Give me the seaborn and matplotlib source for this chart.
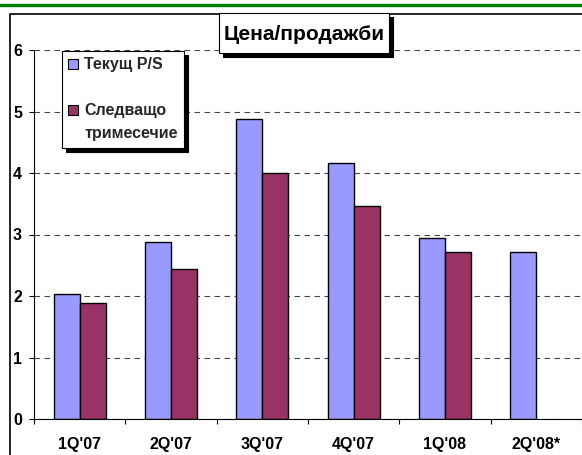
import numpy as np
import pandas as pd
import matplotlib
matplotlib.use("Agg")
import matplotlib.pyplot as plt
import matplotlib.patches as mpatches
from matplotlib.lines import Line2D
import seaborn as sns

quarters = ["1Q'07", "2Q'07", "3Q'07", "4Q'07", "1Q'08", "2Q'08*"]
current_ps = [2.03, 2.88, 4.88, 4.17, 2.95, 2.71]
next_q = [1.88, 2.44, 4.00, 3.46, 2.71, np.nan]
series_names = ["Текущ P/S", "Следващо\nтримесечие"]
colors = ["#9999FF", "#993366"]
title = "Цена/продажби"

df = pd.DataFrame({
    "quarter": quarters * 2,
    "value": current_ps + next_q,
    "series": [series_names[0]] * 6 + [series_names[1]] * 6,
})

sns.set_style("white")
plt.rcParams["font.family"] = ["Liberation Sans", "DejaVu Sans"]
plt.rcParams["font.weight"] = "bold"

W, H = 582, 455
fig = plt.figure(figsize=(W / 100, H / 100), dpi=100)

# green rule at the top and the outer chart frame
fig.add_artist(Line2D([0, 1], [1 - 4.5 / H, 1 - 4.5 / H], color="#008000", lw=2.4,
                      transform=fig.transFigure))
fig.add_artist(mpatches.Rectangle((9.5 / W, -0.1), 1.2, 1 - 13.5 / H + 0.1, fill=False,
                                  ec="black", lw=1.2, transform=fig.transFigure))

ax = fig.add_axes([34 / W, 1 - 419 / H, (W - 34) / W, (419 - 50) / H])
sns.barplot(data=df, x="quarter", y="value", hue="series", order=quarters,
            hue_order=series_names, palette=colors, width=0.57, gap=0,
            edgecolor="black", linewidth=1, saturation=1, ax=ax, legend=False)

ax.set_ylim(0, 6)
ax.set_xlim(-0.5, 5.5)
ax.set_yticks(range(7))
ax.set_yticklabels([str(i) for i in range(7)], fontsize=11.5, fontweight="bold",
                   color="black")
ax.set_xticks(np.arange(-0.5, 6, 1))
ax.set_xticklabels([])
ax.set_xticks(range(6), minor=True)
ax.set_xticklabels(quarters, minor=True, fontsize=11.5, fontweight="bold", color="black")
ax.tick_params(axis="x", which="major", direction="out", length=3.6, width=0.8,
               color="black", bottom=True)
ax.tick_params(axis="x", which="minor", length=0, pad=13)
ax.tick_params(axis="y", direction="out", length=3.6, width=0.8, color="black",
               left=True, pad=5)
ax.set_xlabel("")
ax.set_ylabel("")
ax.yaxis.grid(True, linestyle=(0, (5, 4)), color="#444444", lw=0.8)
ax.set_axisbelow(True)
for s in ["top", "right"]:
    ax.spines[s].set_visible(False)
for s in ["left", "bottom"]:
    ax.spines[s].set_color("black")
    ax.spines[s].set_linewidth(0.8)
ax.patch.set_alpha(0)

# legend: second label split so its square sits beside the first line
blank = mpatches.Patch(fc="none", ec="none")
handles = [mpatches.Patch(fc=colors[0], ec="black", lw=0.8), blank,
           mpatches.Patch(fc=colors[1], ec="black", lw=0.8), blank]
labels = [series_names[0], " "] + series_names[1].split("\n")
leg = ax.legend(handles, labels, loc="upper left",
                bbox_to_anchor=(62 / W, 1 - 51 / H), bbox_transform=fig.transFigure,
                borderaxespad=0, frameon=True, fancybox=False, edgecolor="black",
                shadow={"color": "black", "alpha": 1, "ox": 3, "oy": -3},
                handlelength=0.6, handleheight=0.6, handletextpad=0.4,
                labelspacing=0.5, borderpad=0.4,
                prop={"size": 11.5, "weight": "bold"})
leg.get_frame().set_linewidth(0.8)

# boxed title with a shadow
bx, by, bw, bh = 219, 13, 170, 40
fig.add_artist(mpatches.Rectangle(((bx + 4) / W, 1 - (by + bh + 4) / H), bw / W, bh / H,
                                  fc="black", ec="black", lw=0.8,
                                  transform=fig.transFigure))
fig.add_artist(mpatches.Rectangle((bx / W, 1 - (by + bh) / H), bw / W, bh / H,
                                  fc="white", ec="black", lw=0.8,
                                  transform=fig.transFigure))
fig.text((bx + bw / 2) / W, 1 - (by + bh / 2 + 1) / H, title, ha="center", va="center",
         fontsize=15, fontweight="bold", color="black")

fig.savefig("out.png", dpi=100)
